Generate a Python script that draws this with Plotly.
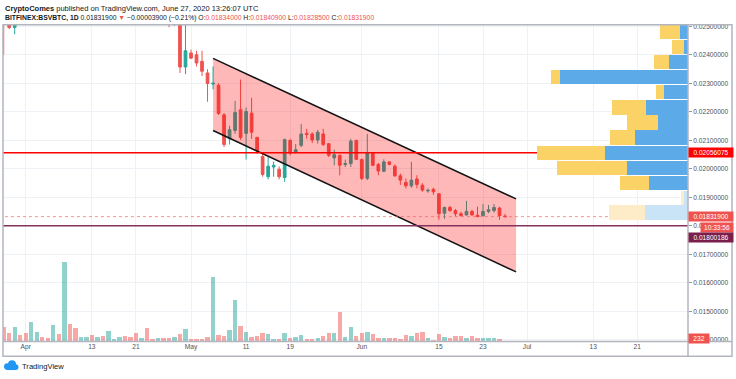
import plotly.graph_objects as go
import pandas as pd

W, H = 736, 379

# ---------------- data ----------------
candle_dates = ["2020-03-28", "2020-03-29", "2020-03-30", "2020-04-27", "2020-04-28"] + \
    list(pd.date_range("2020-04-29", "2020-06-27").strftime("%Y-%m-%d"))

c_open = [0.02620, 0.02560, 0.02496, 0.02640, 0.02600,
          0.02600, 0.02357,
          0.02406, 0.02400, 0.02377, 0.02336, 0.02297, 0.02293, 0.02189, 0.02105, 0.02134, 0.02207,
          0.02124, 0.02195, 0.02110, 0.02043, 0.01972, 0.02006, 0.01998, 0.01969, 0.02099, 0.02058,
          0.02082, 0.02124, 0.02122, 0.02101, 0.02122, 0.02088, 0.02038, 0.02047, 0.02015, 0.02018,
          0.02099,
          0.02032, 0.01966, 0.02055, 0.02015, 0.01991, 0.02024, 0.02009, 0.01975, 0.01952, 0.01940,
          0.01964, 0.01942, 0.01922, 0.01928, 0.01912, 0.01844, 0.01864, 0.01853, 0.01842, 0.01838,
          0.01850, 0.01837, 0.01835, 0.01850, 0.01853, 0.01862, 0.018340]
c_high = [0.02650, 0.02580, 0.02570, 0.02680, 0.02660,
          0.02630, 0.02520,
          0.02418, 0.02414, 0.02414, 0.02349, 0.02359, 0.02300, 0.02195, 0.02151, 0.02238, 0.02313,
          0.02215, 0.02249, 0.02112, 0.02058, 0.02041, 0.02025, 0.02008, 0.02106, 0.02105, 0.02087,
          0.02157, 0.02140, 0.02128, 0.02136, 0.02140, 0.02089, 0.02067, 0.02050, 0.02032, 0.02105,
          0.02102,
          0.02036, 0.02122, 0.02058, 0.02020, 0.02033, 0.02026, 0.02015, 0.01983, 0.01966, 0.02024,
          0.01977, 0.01949, 0.01931, 0.01933, 0.01915, 0.01867, 0.01870, 0.01859, 0.01849, 0.01887,
          0.01856, 0.01867, 0.01876, 0.01873, 0.01876, 0.01866, 0.018409]
c_low = [0.02400, 0.02490, 0.02472, 0.02497, 0.02501,
         0.02336, 0.02332,
         0.02385, 0.02359, 0.02325, 0.02235, 0.02279, 0.02189, 0.02076, 0.02085, 0.02122, 0.02101,
         0.02032, 0.02105, 0.02052, 0.01972, 0.01963, 0.01972, 0.01963, 0.01954, 0.02047, 0.02053,
         0.02076, 0.02105, 0.02090, 0.02088, 0.02080, 0.02041, 0.02012, 0.01977, 0.02006, 0.02006,
         0.02030,
         0.01960, 0.01960, 0.02009, 0.01977, 0.01988, 0.02012, 0.01972, 0.01943, 0.01931, 0.01933,
         0.01931, 0.01919, 0.01916, 0.01908, 0.01821, 0.01824, 0.01849, 0.01833, 0.01832, 0.01835,
         0.01835, 0.01829, 0.01832, 0.01844, 0.01846, 0.01821, 0.018285]
c_close = [0.02560, 0.02496, 0.02540, 0.02600, 0.02620,
           0.02357, 0.02414,
           0.02388, 0.02371, 0.02342, 0.02299, 0.02300, 0.02194, 0.02085, 0.02137, 0.02197, 0.02110,
           0.02201, 0.02128, 0.02062, 0.01980, 0.02009, 0.02012, 0.01972, 0.02102, 0.02055, 0.02067,
           0.02122, 0.02120, 0.02101, 0.02128, 0.02085, 0.02047, 0.02049, 0.02012, 0.02018, 0.02097,
           0.02033,
           0.01966, 0.02055, 0.02012, 0.01992, 0.02024, 0.02015, 0.01975, 0.01960, 0.01940, 0.01960,
           0.01945, 0.01925, 0.01924, 0.01919, 0.01842, 0.01864, 0.01853, 0.01842, 0.01836, 0.01850,
           0.01838, 0.01833, 0.01850, 0.01856, 0.01864, 0.018358, 0.018319]

vol_dates = list(pd.date_range("2020-03-28", "2020-06-27").strftime("%Y-%m-%d"))
volume = [4290, 2490, 4290, 1890,
          2490, 5910, 2790, 1290, 990, 4890, 2310, 24090, 5190, 3990, 1200, 1290, 2010, 1290, 1710,
          3090, 600, 1200, 1500, 1410, 2610, 990, 3990, 810, 900, 900, 900, 1200, 2190, 3690,
          690, 690, 690, 1200, 19500, 2010, 1590, 3390, 12600, 4590, 2790, 1290, 1590, 2490, 2190,
          690, 600, 2400, 900, 1290, 1800, 690, 810, 900, 1500, 2700, 2490, 9000, 1290, 4500, 1500,
          2400, 3000, 2310, 1110, 900, 900, 900, 690, 2010, 1710, 2490, 2910, 990, 510, 2190, 1290,
          990, 1590, 1710, 900, 1590, 990, 990, 990, 900, 690, 232]
vol_up = [0, 0, 1, 0,
          0, 1, 1, 0, 0, 1, 0, 1, 0, 0, 1, 1, 0, 1, 0,
          1, 1, 1, 0, 0, 0, 1, 0, 0, 1, 0, 0, 1, 0, 1,
          0, 0, 0, 0, 1, 0, 0, 1, 1, 0, 1, 0, 0, 0, 1,
          1, 0, 1, 0, 1, 1, 0, 0, 1, 0, 0, 1, 0, 1, 1, 0,
          0, 1, 0, 0, 1, 0, 0, 0, 0, 1, 0, 0, 1, 0, 0, 1,
          0, 0, 0, 1, 0, 0, 1, 1, 1, 0, 0]

# volume profile (visible range)
vp_price = [0.024784, 0.024270, 0.023750, 0.023212, 0.022684, 0.022146, 0.021621,
            0.021094, 0.020562, 0.020028, 0.019503, 0.018976, 0.018465]
vp_up = [830, 400, 1870, 12800, 2400, 4200, 3000, 5270, 8270, 6070, 3930, 370, 4330]
vp_down = [1930, 1230, 1560, 900, 800, 3400, 3070, 2530, 6800, 7000, 2870, 330, 3570]
vp_value_area = [1, 1, 1, 1, 1, 1, 1, 1, 1, 1, 1, 0, 0]

# drawings
channel_dates = ["2020-05-05", "2020-06-29"]
channel_upper = [0.02387, 0.01894]
channel_lower = [0.02134, 0.01638]
poc_level = 0.02056075
support_level = 0.01800186
countdown = "10:33:56"

price_ticks = [0.014, 0.015, 0.016, 0.017, 0.018, 0.019, 0.020, 0.021, 0.022, 0.023, 0.024, 0.025]
time_tickvals = ["2020-04-01", "2020-04-13", "2020-04-21", "2020-05-01", "2020-05-11", "2020-05-19",
                 "2020-06-01", "2020-06-15", "2020-06-23", "2020-07-01", "2020-07-13", "2020-07-21"]
time_ticktext = ["Apr", "13", "21", "May", "11", "19", "Jun", "15", "23", "Jul", "13", "21"]

x_range = ["2020-03-27 21:00", "2020-07-30 05:00"]
y_range = [0.013941, 0.025052]

# ---------------- style ----------------
UP, DOWN = "#26a69a", "#ef5350"
FONT = "Liberation Sans, Arial, sans-serif"
TXT = "#131722"
AX = "#4c525e"
GRID = "#eef1f6"
FRAME = "#b2b5be"


def px(x):
    return x / W


def py(y):
    return 1 - y / H


fig = go.Figure()

fig.add_trace(go.Candlestick(
    x=candle_dates, open=c_open, high=c_high, low=c_low, close=c_close,
    increasing=dict(line=dict(color=UP, width=1), fillcolor=UP),
    decreasing=dict(line=dict(color=DOWN, width=1), fillcolor=DOWN),
    whiskerwidth=0, showlegend=False, hoverinfo="skip"))

# parallel channel
fig.add_trace(go.Scatter(
    x=[channel_dates[0], channel_dates[1], channel_dates[1], channel_dates[0], channel_dates[0]],
    y=[channel_upper[0], channel_upper[1], channel_lower[1], channel_lower[0], channel_upper[0]],
    fill="toself", fillcolor="rgba(255,0,0,0.28)", line=dict(width=0), mode="lines",
    showlegend=False, hoverinfo="skip"))
fig.add_trace(go.Scatter(x=channel_dates, y=channel_upper, mode="lines",
                         line=dict(color="#131313", width=1.5), showlegend=False, hoverinfo="skip"))
fig.add_trace(go.Scatter(x=channel_dates, y=channel_lower, mode="lines",
                         line=dict(color="#131313", width=1.5), showlegend=False, hoverinfo="skip"))

# horizontal levels
span = ["2020-03-01", "2020-09-01"]
fig.add_trace(go.Scatter(x=span, y=[poc_level] * 2, mode="lines",
                         line=dict(color="#ff0000", width=1.6), showlegend=False, hoverinfo="skip"))
fig.add_trace(go.Scatter(x=span, y=[support_level] * 2, mode="lines",
                         line=dict(color="#86305f", width=1.5), showlegend=False, hoverinfo="skip"))
fig.add_trace(go.Scatter(x=span, y=[c_close[-1]] * 2, mode="lines",
                         line=dict(color="#ef5350", width=1, dash="dot"), opacity=0.6,
                         showlegend=False, hoverinfo="skip"))

# volume
fig.add_trace(go.Bar(
    x=vol_dates, y=volume, yaxis="y2",
    marker=dict(color=["rgba(38,166,154,0.5)" if u else "rgba(239,83,80,0.5)" for u in vol_up],
                line=dict(width=0)),
    width=0.8 * 86400000, showlegend=False, hoverinfo="skip"))

# volume profile
fig.add_trace(go.Bar(
    y=vp_price, x=vp_up, orientation="h", xaxis="x3", yaxis="y", width=0.000497,
    marker=dict(color=["#5caae8" if v else "#c9e3f7" for v in vp_value_area], line=dict(width=0)),
    showlegend=False, hoverinfo="skip"))
fig.add_trace(go.Bar(
    y=vp_price, x=vp_down, orientation="h", xaxis="x3", yaxis="y", width=0.000497,
    marker=dict(color=["#fbd266" if v else "#feecc9" for v in vp_value_area], line=dict(width=0)),
    showlegend=False, hoverinfo="skip"))

# ---------------- annotations ----------------
ann = []
red = "<span style='color:#ef5350'>%s</span>"
ann.append(dict(xref="paper", yref="paper", x=px(3), y=py(6.5), xanchor="left", yanchor="middle",
                showarrow=False, font=dict(size=7.5, color=TXT, family=FONT),
                text="<b>CryptoComes</b> published on TradingView.com, June 27, 2020 13:26:07 UTC"))
chg = c_close[-1] - c_close[-2]
line2 = ("<b>BITFINEX:BSVBTC, 1D</b> %.8f " % c_close[-1] + red % "▼" +
         " −%.8f (−%.2f%%) " % (abs(chg), abs(chg) / c_close[-2] * 100) +
         "O:" + red % ("%.8f" % c_open[-1]) + " H:" + red % ("%.8f" % c_high[-1]) +
         " L:" + red % ("%.8f" % c_low[-1]) + " C:" + red % ("%.8f" % c_close[-1]))
ann.append(dict(xref="paper", yref="paper", x=px(3), y=py(16.5), xanchor="left", yanchor="middle",
                showarrow=False, font=dict(size=6.8, color=TXT, family=FONT), text=line2))

# price scale labels
def price_label(y, text, bg, yref="y", yshift=0, x=688, width=42):
    return dict(xref="paper", yref=yref, x=px(x), y=y, xanchor="left", yanchor="middle",
                showarrow=False, text=text, bgcolor=bg, borderpad=1, width=width, height=7,
                font=dict(size=6.6, color="white", family=FONT), yshift=yshift, align="center")

ann.append(price_label(poc_level, "%.8f" % poc_level, "#ff0000"))
ann.append(price_label(c_close[-1], "%.8f" % c_close[-1], DOWN))
ann.append(price_label(c_close[-1], countdown, DOWN, yshift=-10.5, x=700, width=30))
ann.append(price_label(support_level, "%.8f" % support_level, "#7a1f4b", yshift=-11.5))
ann.append(price_label(volume[-1], str(volume[-1]), DOWN, yref="y2", yshift=2.5, width=18))

ann.append(dict(xref="paper", yref="paper", x=px(20), y=py(368), xanchor="left", yanchor="middle",
                showarrow=False, text="TradingView", font=dict(size=7.6, color=TXT, family=FONT)))

# ---------------- frame & logo ----------------
shapes = [
    dict(type="rect", xref="paper", yref="paper", x0=px(3), x1=px(732), y0=py(358), y1=py(23),
         line=dict(color=FRAME, width=1.5), layer="above"),
    dict(type="line", xref="paper", yref="paper", x0=px(688), x1=px(688), y0=py(358), y1=py(23),
         line=dict(color=FRAME, width=1.5), layer="above"),
    dict(type="line", xref="paper", yref="paper", x0=px(3), x1=px(732), y0=py(343), y1=py(343),
         line=dict(color=FRAME, width=1.5), layer="above"),
    dict(type="circle", xref="paper", yref="paper", x0=px(4), x1=px(11), y0=py(372), y1=py(365),
         fillcolor="#2196f3", line=dict(width=0)),
    dict(type="circle", xref="paper", yref="paper", x0=px(8), x1=px(16), y0=py(370), y1=py(362),
         fillcolor="#2196f3", line=dict(width=0)),
    dict(type="circle", xref="paper", yref="paper", x0=px(12.5), x1=px(18.5), y0=py(372), y1=py(366),
         fillcolor="#2196f3", line=dict(width=0)),
    dict(type="rect", xref="paper", yref="paper", x0=px(7.5), x1=px(15.5), y0=py(372), y1=py(368),
         fillcolor="#2196f3", line=dict(width=0)),
]

fig.update_layout(
    width=W, height=H, margin=dict(l=0, r=0, t=0, b=0),
    paper_bgcolor="white", plot_bgcolor="white",
    barmode="stack", showlegend=False, dragmode=False,
    font=dict(family=FONT, color=AX, size=6.6),
    xaxis=dict(domain=[px(3), px(688)], type="date", range=x_range,
               tickmode="array", tickvals=time_tickvals, ticktext=time_ticktext,
               showgrid=True, gridcolor=GRID, gridwidth=1, zeroline=False, showline=False,
               ticks="", tickfont=dict(size=6.6, color=AX), rangeslider=dict(visible=False),
               fixedrange=True),
    yaxis=dict(domain=[py(343), py(23)], range=y_range, side="right",
               tickmode="array", tickvals=price_ticks, tickformat=".8f",
               showgrid=True, gridcolor=GRID, zeroline=False, showline=False,
               ticks="outside", ticklen=3, tickcolor="#9598a1",
               tickfont=dict(size=6.6, color=AX), fixedrange=True),
    yaxis2=dict(overlaying="y", range=[0, 96400], visible=False, fixedrange=True),
    xaxis3=dict(overlaying="x", anchor="y", range=[68500, 0], visible=False, fixedrange=True),
    annotations=ann, shapes=shapes,
)

fig.write_html("out.html")
